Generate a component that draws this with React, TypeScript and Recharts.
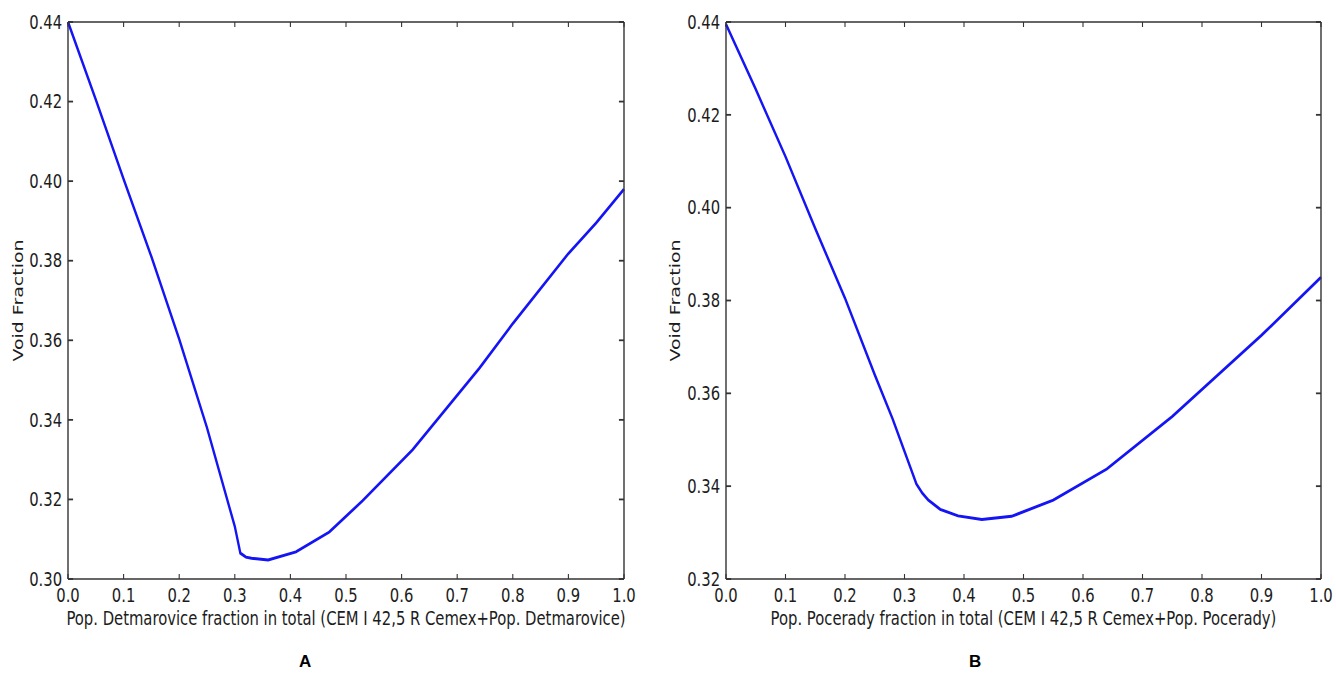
import React from 'react';
import { LineChart, Line, XAxis, YAxis, Label } from 'recharts';

// x positions and void fraction values
const detX = [0, 0.05, 0.1, 0.15, 0.2, 0.25, 0.3, 0.31, 0.32, 0.33, 0.36, 0.41, 0.47, 0.53, 0.62, 0.74, 0.8, 0.9, 0.95, 1.0];
const detY = [0.44, 0.4205, 0.4005, 0.381, 0.3603, 0.338, 0.3132, 0.3065, 0.3055, 0.3052, 0.3048, 0.3068, 0.3118, 0.3197, 0.3325, 0.353, 0.3642, 0.3818, 0.3895, 0.398];

const pocX = [0, 0.05, 0.1, 0.15, 0.2, 0.25, 0.28, 0.3, 0.31, 0.32, 0.33, 0.34, 0.36, 0.39, 0.43, 0.48, 0.55, 0.64, 0.75, 0.9, 1.0];
const pocY = [0.4395, 0.4255, 0.411, 0.3955, 0.3805, 0.364, 0.3545, 0.3475, 0.344, 0.3405, 0.3385, 0.337, 0.335, 0.3336, 0.3328, 0.3335, 0.337, 0.3437, 0.355, 0.3725, 0.385];

const xTicks = [0, 0.1, 0.2, 0.3, 0.4, 0.5, 0.6, 0.7, 0.8, 0.9, 1.0];
const detTicks = [0.3, 0.32, 0.34, 0.36, 0.38, 0.4, 0.42, 0.44];
const pocTicks = [0.32, 0.34, 0.36, 0.38, 0.4, 0.42, 0.44];

const detLabel = 'Pop. Detmarovice fraction in total (CEM I 42,5 R Cemex+Pop. Detmarovice)';
const pocLabel = 'Pop. Pocerady fraction in total (CEM I 42,5 R Cemex+Pop. Pocerady)';

// the source image is squeezed horizontally, so each panel is drawn wider and scaled back
const SX = 0.78;
const H = 640;
const PLOT_TOP = 22;
const PLOT_BOTTOM = 579;
const FONT = "'DejaVu Sans', sans-serif";
const INK = '#1c1c1c';
const FRAME = '#333';

const toRows = (xs: number[], ys: number[]) => xs.map((x, i) => ({ x, y: ys[i] }));

interface PanelProps {
  left: number;
  width: number;
  plotLeft: number;
  plotRight: number;
  labelX: number;
  xs: number[];
  ys: number[];
  yTicks: number[];
  xLabel: string;
}

const Panel: React.FC<PanelProps> = ({ left, width, plotLeft, plotRight, labelX, xs, ys, yTicks, xLabel }) => {
  const w = Math.round(width / SX);
  const marginLeft = 10;
  const yAxisW = (plotLeft - left) / SX - marginLeft;
  // the mirrored right axis takes 1 unit of width
  const marginRight = w - (plotRight - left) / SX - 1;
  const domain: [number, number] = [yTicks[0], yTicks[yTicks.length - 1]];
  const data = toRows(xs, ys);
  const tickStyle = { fill: INK, fontSize: 19, fontFamily: FONT };
  const blank = () => '';
  return (
    <div
      style={{
        position: 'absolute',
        left,
        top: 0,
        width: w,
        height: H,
        transform: `scaleX(${SX})`,
        transformOrigin: '0 0',
      }}
    >
      <LineChart
        width={w}
        height={H}
        data={data}
        margin={{ top: PLOT_TOP - 1, right: marginRight, bottom: 0, left: marginLeft }}
      >
        <XAxis
          xAxisId="bottom"
          dataKey="x"
          type="number"
          domain={[0, 1]}
          ticks={xTicks}
          interval={0}
          height={H - PLOT_BOTTOM}
          tickFormatter={(v: number) => v.toFixed(1)}
          tick={tickStyle}
          tickSize={-5}
          tickMargin={15}
          stroke={FRAME}
          strokeWidth={1.4}
        >
          <Label
            value={xLabel}
            position="insideBottom"
            offset={15}
            style={{ fill: INK, fontSize: 19, fontFamily: FONT }}
          />
        </XAxis>
        <XAxis
          xAxisId="top"
          orientation="top"
          dataKey="x"
          type="number"
          domain={[0, 1]}
          ticks={xTicks}
          interval={0}
          height={1}
          tickFormatter={blank}
          tickSize={-5}
          stroke={FRAME}
          strokeWidth={1.4}
        />
        <YAxis
          yAxisId="left"
          type="number"
          domain={domain}
          ticks={yTicks}
          interval={0}
          width={yAxisW}
          tickFormatter={(v: number) => v.toFixed(2)}
          tick={tickStyle}
          tickSize={-6.5}
          tickMargin={14}
          stroke={FRAME}
          strokeWidth={1.8}
        >
          <Label
            value="Void Fraction"
            angle={-90}
            position="insideLeft"
            offset={(labelX - left) / SX - marginLeft}
            style={{ fill: INK, fontSize: 19, fontFamily: FONT, textAnchor: 'middle' }}
          />
        </YAxis>
        <YAxis
          yAxisId="right"
          orientation="right"
          type="number"
          domain={domain}
          ticks={yTicks}
          interval={0}
          width={1}
          tickFormatter={blank}
          tickSize={-6.5}
          stroke={FRAME}
          strokeWidth={1.8}
        />
        <Line
          xAxisId="top"
          yAxisId="right"
          dataKey="y"
          stroke="none"
          dot={false}
          activeDot={false}
          isAnimationActive={false}
        />
        <Line
          xAxisId="bottom"
          yAxisId="left"
          type="linear"
          dataKey="y"
          stroke="#1414f5"
          strokeWidth={3}
          dot={false}
          activeDot={false}
          isAnimationActive={false}
        />
      </LineChart>
    </div>
  );
};

const tagStyle: React.CSSProperties = {
  position: 'absolute',
  top: 652,
  fontFamily: "'Liberation Sans', Arial, sans-serif",
  fontWeight: 'bold',
  fontSize: 17,
  color: '#000',
};

export default function App() {
  return (
    <div style={{ position: 'absolute', left: 0, top: 0, width: 1336, height: 673, background: '#fff', overflow: 'hidden' }}>
      <Panel
        left={0}
        width={660}
        plotLeft={68}
        plotRight={624}
        labelX={18}
        xs={detX}
        ys={detY}
        yTicks={detTicks}
        xLabel={detLabel}
      />
      <Panel
        left={660}
        width={676}
        plotLeft={726}
        plotRight={1321}
        labelX={675}
        xs={pocX}
        ys={pocY}
        yTicks={pocTicks}
        xLabel={pocLabel}
      />
      <div style={{ ...tagStyle, left: 299 }}>A</div>
      <div style={{ ...tagStyle, left: 969 }}>B</div>
    </div>
  );
}
